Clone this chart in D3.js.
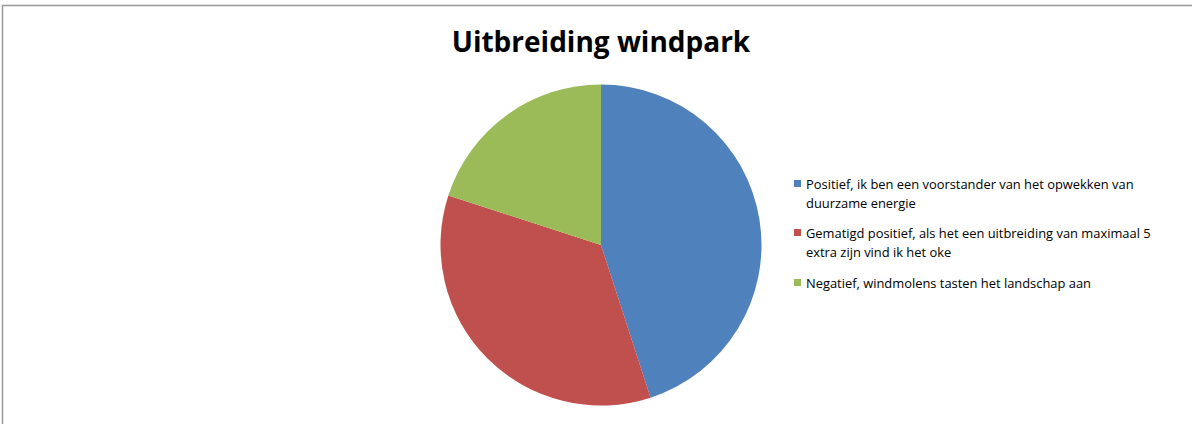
<!DOCTYPE html>
<html>
<head>
<meta charset="utf-8">
<script src="https://cdn.jsdelivr.net/npm/d3@7"></script>
<style>
  html, body { margin: 0; padding: 0; background: #fff; }
  svg { display: block; }
</style>
</head>
<body>
<svg id="chart" width="1192" height="424"></svg>
<script>
// Survey answers on the wind farm extension (share of respondents, %)
const categories = [
  ["Positief, ik ben een voorstander van het opwekken van", "duurzame energie"],
  ["Gematigd positief, als het een uitbreiding van maximaal 5", "extra zijn vind ik het oke"],
  ["Negatief, windmolens tasten het landschap aan"]
];
const values = [45, 35, 20];
const colors = ["#4f81bd", "#c0504d", "#9bbb59"];
const title = "Uitbreiding windpark";

const svg = d3.select("#chart");
const W = 1192, H = 424;

// chart area frame
svg.append("path")
  .attr("d", `M2.5,${H} V5.5 H${W}`)
  .attr("fill", "none")
  .attr("stroke", "#999")
  .attr("stroke-width", 1.5);

svg.append("text")
  .attr("x", 601).attr("y", 52)
  .attr("text-anchor", "middle")
  .attr("font-family", "'Open Sans', sans-serif")
  .attr("font-weight", "bold")
  .attr("font-size", 28)
  .attr("fill", "#000")
  .text(title);

const cx = 601, cy = 245, r = 160.5;
const pie = d3.pie().sort(null).value(d => d);
const arc = d3.arc().innerRadius(0).outerRadius(r);

svg.append("g")
  .attr("transform", `translate(${cx},${cy})`)
  .selectAll("path")
  .data(pie(values))
  .join("path")
  .attr("d", arc)
  .attr("fill", (d, i) => colors[i]);

// legend
const legendY = [189, 238, 288];
const lineH = 19;
const lg = svg.append("g");
categories.forEach((lines, i) => {
  lg.append("rect")
    .attr("x", 794).attr("y", legendY[i] - 9)
    .attr("width", 7).attr("height", 7)
    .attr("fill", colors[i]);
  lines.forEach((t, j) => {
    lg.append("text")
      .attr("x", 806).attr("y", legendY[i] + j * lineH)
      .attr("font-family", "'Open Sans', sans-serif")
      .attr("font-size", 12.9)
      .attr("fill", "#000")
      .text(t);
  });
});
</script>
</body>
</html>
